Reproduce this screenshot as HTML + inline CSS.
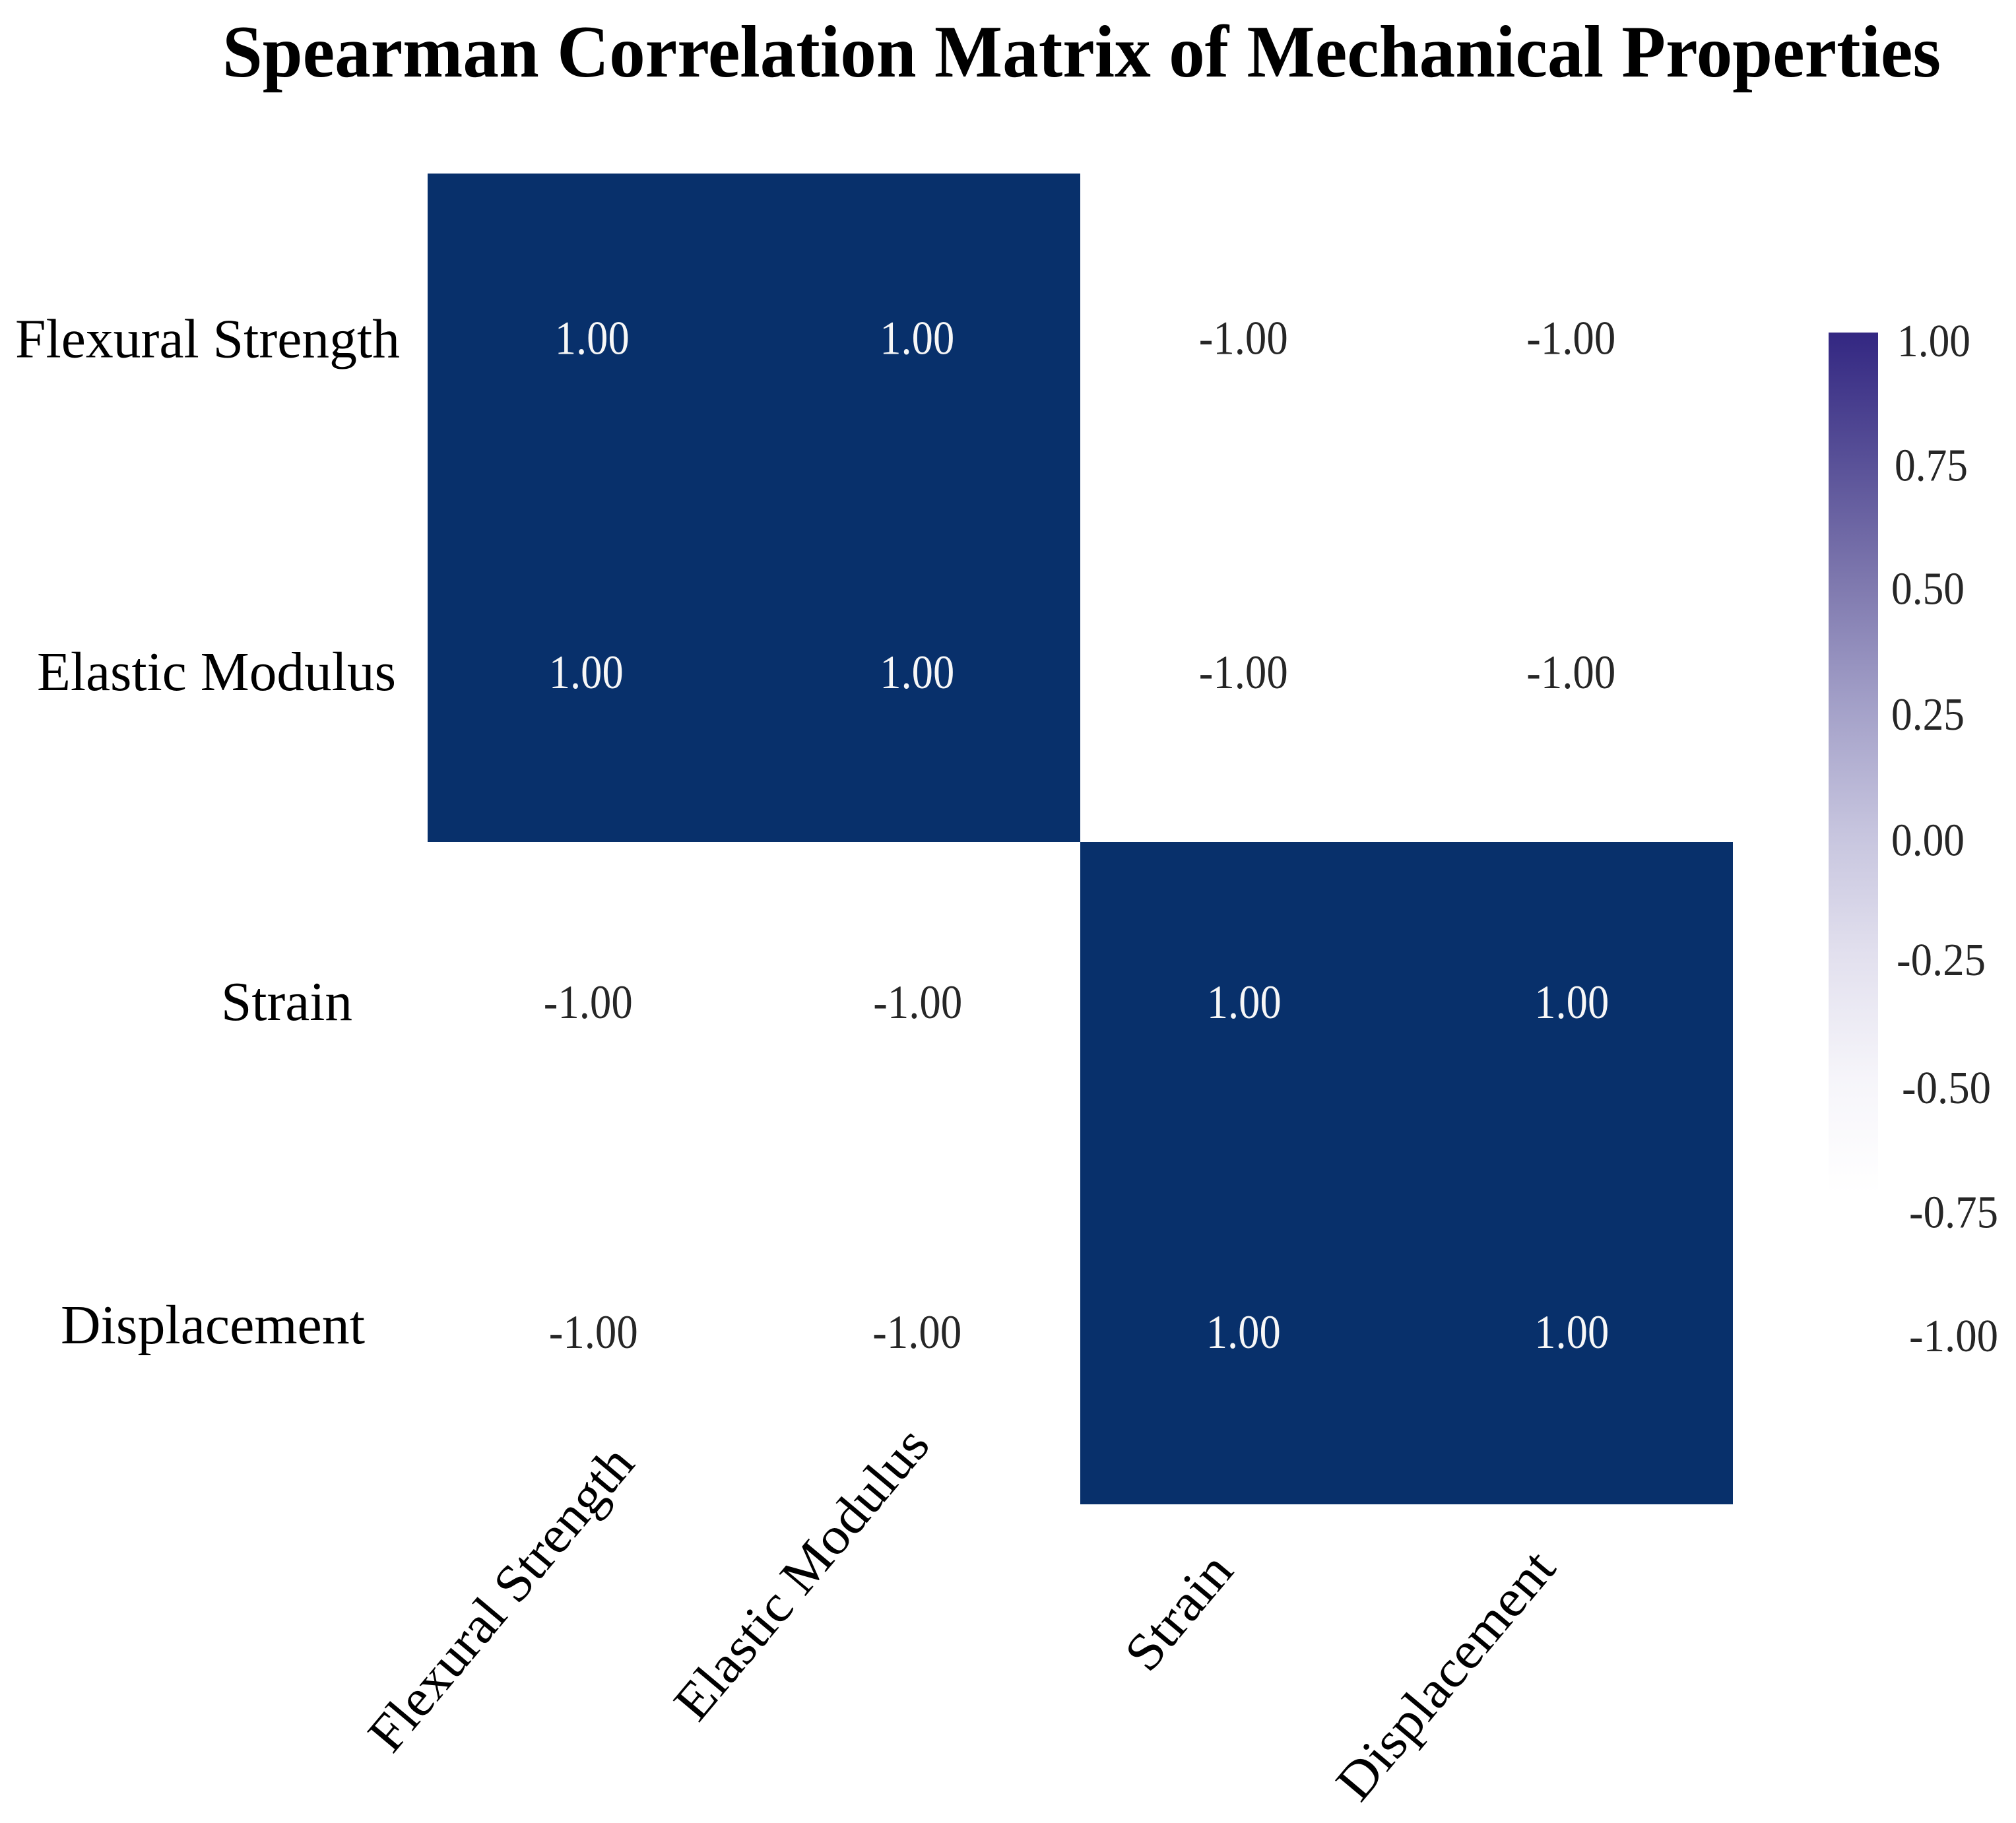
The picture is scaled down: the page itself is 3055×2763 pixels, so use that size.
<!DOCTYPE html>
<html lang="en">
<head>
<meta charset="utf-8">
<title>Spearman Correlation Matrix of Mechanical Properties</title>
<style>
  html, body { margin: 0; padding: 0; background: #fff; }
  svg { display: block; }
  text { font-family: "Liberation Serif", serif; }
</style>
</head>
<body>
<svg id="chart" xmlns="http://www.w3.org/2000/svg" width="3055" height="2763" viewBox="0 0 3055 2763">
  <defs>
    <linearGradient id="cbar-gradient" x1="0" y1="0" x2="0" y2="1">
      <stop offset="0" stop-color="#332782"/>
      <stop offset="0.125" stop-color="#574f97"/>
      <stop offset="0.25" stop-color="#7e78ae"/>
      <stop offset="0.375" stop-color="#a3a0c8"/>
      <stop offset="0.5" stop-color="#c6c4de"/>
      <stop offset="0.625" stop-color="#e2e0ee"/>
      <stop offset="0.75" stop-color="#f6f5fa"/>
      <stop offset="0.865" stop-color="#ffffff"/>
      <stop offset="1" stop-color="#ffffff"/>
    </linearGradient>
  </defs>
  <text x="2941" y="116" text-anchor="end" font-size="112" font-weight="700" fill="#000" textLength="2604" lengthAdjust="spacingAndGlyphs">Spearman Correlation Matrix of Mechanical Properties</text>
  <g id="cells"></g>
  <g id="cell-labels"></g>
  <g id="y-labels"></g>
  <g id="x-labels"></g>
  <rect id="cbar" fill="url(#cbar-gradient)"></rect>
  <g id="cbar-labels"></g>
</svg>
<script>
const categories = ["Flexural Strength", "Elastic Modulus", "Strain", "Displacement"];
const rowFlexuralStrength = [1.00, 1.00, -1.00, -1.00];
const rowElasticModulus = [1.00, 1.00, -1.00, -1.00];
const rowStrain = [-1.00, -1.00, 1.00, 1.00];
const rowDisplacement = [-1.00, -1.00, 1.00, 1.00];
const colorbarTicks = [1.00, 0.75, 0.50, 0.25, 0.00, -0.25, -0.50, -0.75, -1.00];

const matrix = [rowFlexuralStrength, rowElasticModulus, rowStrain, rowDisplacement];
const NS = "http://www.w3.org/2000/svg";

// Axis functions
function xEdge(col) { return 648 + col * 494.5; }
function yEdge(row) {
  return row <= 2 ? 263 + row * 506.5 : 1276 + (row - 2) * 502;
}
function xCenter(col) { return xEdge(col) + 494.5 / 2; }
function yCenter(row) { return (yEdge(row) + yEdge(row + 1)) / 2; }
function cbarY(v) { return 504 + (1 - v) / 2 * 1509; }

function cellColor(v) {
  const t = Math.max(0, Math.min(1, (v + 1) / 2));
  const mix = (a, b) => Math.round(a + (b - a) * t);
  return "rgb(" + mix(255, 8) + "," + mix(255, 48) + "," + mix(255, 107) + ")";
}

function makeText(parent, str, x, y, size, fill, length, anchor) {
  const t = document.createElementNS(NS, "text");
  t.setAttribute("x", x);
  t.setAttribute("y", y);
  t.setAttribute("font-size", size);
  t.setAttribute("fill", fill);
  t.setAttribute("text-anchor", anchor);
  t.setAttribute("textLength", length);
  t.setAttribute("lengthAdjust", "spacingAndGlyphs");
  t.textContent = str;
  parent.appendChild(t);
  return t;
}

// Heatmap cells and printed values
const cellsG = document.getElementById("cells");
const cellLabelsG = document.getElementById("cell-labels");
const labelJitterX = { "0,0": 2, "1,0": -7, "2,0": -4, "3,0": 4, "2,1": 1, "0,3": 2, "1,3": 2, "2,2": 1, "2,3": 3, "3,3": 3 };
const labelJitterY = [-4, -4, -8, -10];
matrix.forEach(function (rowValues, r) {
  rowValues.forEach(function (v, c) {
    const rect = document.createElementNS(NS, "rect");
    rect.setAttribute("x", xEdge(c));
    rect.setAttribute("y", yEdge(r));
    rect.setAttribute("width", xEdge(c + 1) - xEdge(c));
    rect.setAttribute("height", yEdge(r + 1) - yEdge(r));
    rect.setAttribute("fill", cellColor(v));
    rect.setAttribute("shape-rendering", "crispEdges");
    
    
    cellsG.appendChild(rect);

    const str = v.toFixed(2);
    const jx = labelJitterX[r + "," + c] || 0;
    const lab = makeText(cellLabelsG, str, xCenter(c) + jx, yCenter(r) + labelJitterY[r] + 24, 72,
      v > 0 ? "#f7f7f7" : "#262626", str.length > 4 ? 135 : 113, "middle");
    
    
  });
});

// Y axis labels (horizontal, placed on slightly irregular anchors)
const yLabelsG = document.getElementById("y-labels");
const yLabelLeft = [23, 56, 335, 92];
const yLabelLength = [583, 544, 199, 461];
const yLabelOffset = [25, 23, 19, 7];
categories.forEach(function (name, r) {
  const t = makeText(yLabelsG, name, yLabelLeft[r], yCenter(r) + yLabelOffset[r], 84, "#000", yLabelLength[r], "start");
  
  
});

// X axis labels (rotated around an irregular anchor per column)
const xLabelsG = document.getElementById("x-labels");
const xLabelOffsetX = [-135, -174, -97, -187];
const xLabelCenterY = [2424, 2386, 2444, 2540];
const xLabelLength = [575, 550, 203, 465];
categories.forEach(function (name, c) {
  const t = makeText(xLabelsG, name, 0, 25, 80, "#000", xLabelLength[c], "middle");
  t.setAttribute("transform", "translate(" + (xCenter(c) + xLabelOffsetX[c]) + " " + xLabelCenterY[c] + ") rotate(-50)");
  
  
});

// Colorbar
const cbar = document.getElementById("cbar");
cbar.setAttribute("x", 2771);
cbar.setAttribute("y", cbarY(1));
cbar.setAttribute("width", 75);
cbar.setAttribute("height", cbarY(-1) - cbarY(1));

const cbarLabelsG = document.getElementById("cbar-labels");
const cbarLeft = [2875, 2871, 2866, 2866, 2866, 2874, 2882, 2893, 2893];
const cbarJitterY = [14, 14, 12, 14, 16, 9, 14, 14, 13];
colorbarTicks.forEach(function (v, i) {
  const str = v.toFixed(2);
  const t = makeText(cbarLabelsG, str, cbarLeft[i], cbarY(v) + cbarJitterY[i] + 22, 70, "#262626",
    str.length > 4 ? 135 : 111, "start");
  
  
});
</script>
</body>
</html>
